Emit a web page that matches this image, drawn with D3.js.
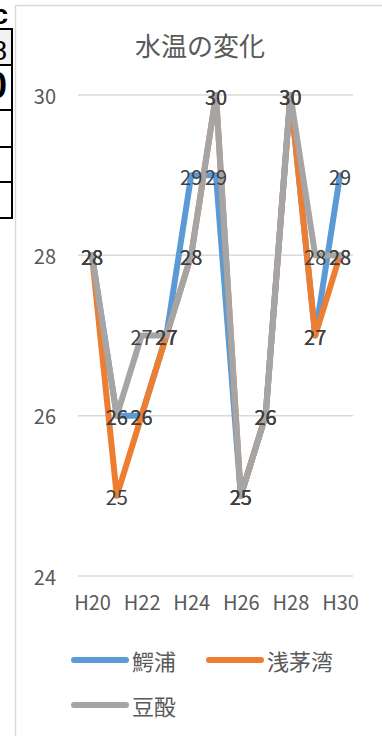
<!DOCTYPE html>
<html>
<head>
<meta charset="utf-8">
<script src="https://cdn.jsdelivr.net/npm/d3@7"></script>
<style>
  html, body { margin: 0; padding: 0; background: #fff; }
  svg { display: block; font-family: "Noto Sans CJK JP", "Noto Sans", sans-serif; }
</style>
</head>
<body>
<script>
// categories (every year, labels shown every other year)
const years = ["H20", "H21", "H22", "H23", "H24", "H25", "H26", "H27", "H28", "H29", "H30"];
const wanizura = [28, 26, 26, 27, 29, 29, 25, 26, 30, 27, 29];   // 鰐浦
const asajiwan = [28, 25, 26, 27, 28, 30, 25, 26, 30, 27, 28];   // 浅茅湾
const tsutsu = [28, 26, 27, 27, 28, 30, 25, 26, 30, 28, 28];     // 豆酘
const yTicks = [24, 26, 28, 30];
const seriesNames = ["鰐浦", "浅茅湾", "豆酘"];
const chartTitle = "水温の変化";

const width = 382, height = 736;
const colors = ["#5B9BD5", "#ED7D31", "#A5A5A5"];

const svg = d3.select("body").append("svg")
  .attr("width", width)
  .attr("height", height);

// bit of the spreadsheet table peeking out on the left
const table = svg.append("g").attr("class", "sheetTable");
table.append("rect").attr("x", 0).attr("y", 29).attr("width", 12).attr("height", 36).attr("fill", "#f2f2f2");
[29, 65, 110, 147, 182, 218].forEach(y => {
  table.append("line").attr("x1", 0).attr("x2", 13).attr("y1", y).attr("y2", y)
    .attr("stroke", "#000").attr("stroke-width", 2);
});
table.append("line").attr("x1", 12).attr("x2", 12).attr("y1", 28).attr("y2", 219)
  .attr("stroke", "#000").attr("stroke-width", 2);
table.append("text").attr("x", 8).attr("y", 24).attr("text-anchor", "end")
  .attr("font-size", 28).attr("font-weight", "bold").attr("font-family", "Liberation Sans").text("c");
table.append("text").attr("x", 7).attr("y", 60).attr("text-anchor", "end")
  .attr("font-size", 28).attr("font-family", "Liberation Sans").text("8");
table.append("text").attr("x", 7).attr("y", 98).attr("text-anchor", "end")
  .attr("font-size", 36).attr("font-weight", "bold").attr("font-family", "Liberation Sans").text("0");

// chart area border
svg.append("path")
  .attr("d", `M15.5,${height} V5.5 H${width}`)
  .attr("fill", "none")
  .attr("stroke", "#d9d9d9")
  .attr("stroke-width", 1.5);

const x = d3.scalePoint().domain(years).range([92, 340]);
const y = d3.scaleLinear().domain([24, 30]).range([576, 95]);

// title
svg.append("text")
  .attr("x", 200).attr("y", 44)
  .attr("text-anchor", "middle").attr("dominant-baseline", "central")
  .attr("font-size", 26).attr("fill", "#595959")
  .text(chartTitle);

// gridlines + y labels
const yAxis = svg.append("g").attr("class", "yAxis");
yAxis.selectAll("line").data(yTicks).enter().append("line")
  .attr("x1", 78).attr("x2", 353)
  .attr("y1", d => y(d)).attr("y2", d => y(d))
  .attr("stroke", "#d9d9d9").attr("stroke-width", 1.5);
yAxis.selectAll("text").data(yTicks).enter().append("text")
  .attr("x", 56).attr("y", d => y(d))
  .attr("text-anchor", "end").attr("dominant-baseline", "central")
  .attr("font-size", 20).attr("fill", "#595959")
  .text(d => d);

// x axis labels (every other year)
const xAxis = svg.append("g")
  .attr("transform", "translate(0,596)")
  .call(d3.axisBottom(x).tickValues(years.filter((d, i) => i % 2 === 0)).tickSize(0).tickPadding(0));
xAxis.select(".domain").remove();
xAxis.selectAll("text")
  .attr("font-size", 20).attr("fill", "#595959")
  .attr("font-family", "\"Noto Sans CJK JP\", sans-serif")
  .attr("dy", "0.7em");

// lines
const allSeries = [wanizura, asajiwan, tsutsu];
const line = d3.line().x((d, i) => x(years[i])).y(d => y(d));
svg.append("g").selectAll("path").data(allSeries).enter().append("path")
  .attr("d", line)
  .attr("fill", "none")
  .attr("stroke", (d, i) => colors[i])
  .attr("stroke-width", 6)
  .attr("stroke-linejoin", "round")
  .attr("stroke-linecap", "round");

// data labels
const labels = svg.append("g");
allSeries.forEach(s => {
  labels.selectAll(null).data(s).enter().append("text")
    .attr("x", (d, i) => x(years[i]))
    .attr("y", d => y(d) + 1)
    .attr("text-anchor", "middle").attr("dominant-baseline", "central")
    .attr("font-size", 20).attr("fill", "#404040")
    .text(d => d);
});

// legend
const legendItems = [
  { name: seriesNames[0], color: colors[0], lx: 72, ly: 660 },
  { name: seriesNames[1], color: colors[1], lx: 207, ly: 660 },
  { name: seriesNames[2], color: colors[2], lx: 72, ly: 705 }
];
const legend = svg.append("g").selectAll("g").data(legendItems).enter().append("g")
  .attr("transform", d => `translate(${d.lx},${d.ly})`);
legend.append("line")
  .attr("x1", 2).attr("x2", 54).attr("y1", 0).attr("y2", 0)
  .attr("stroke", d => d.color).attr("stroke-width", 6).attr("stroke-linecap", "round");
legend.append("text")
  .attr("x", 60).attr("y", 0)
  .attr("dominant-baseline", "central")
  .attr("font-size", 22).attr("fill", "#595959")
  .text(d => d.name);
</script>
</body>
</html>
